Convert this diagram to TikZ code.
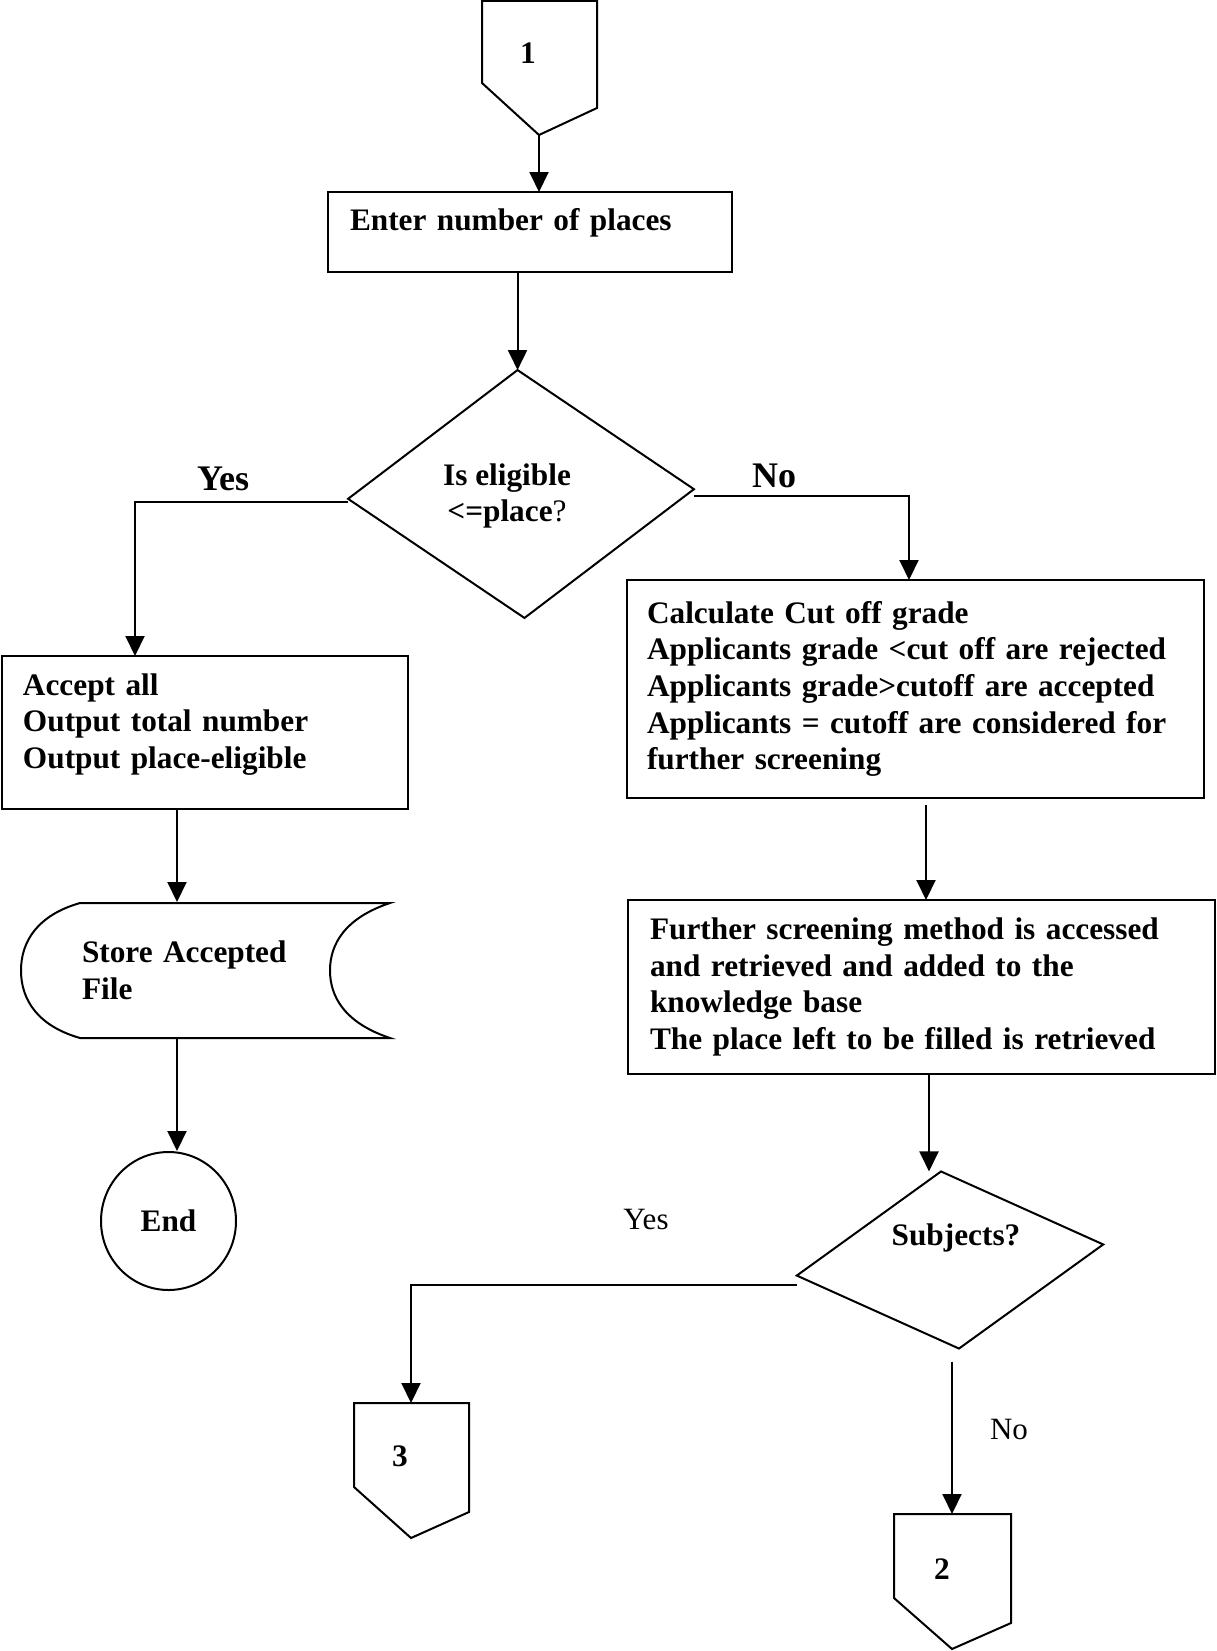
\documentclass[tikz,border=0pt]{standalone}
\usepackage{fontspec}
\setmainfont{Liberation Serif}
\usetikzlibrary{arrows.meta,shapes.geometric,calc}
\begin{document}
\begin{tikzpicture}[x=1pt,y=-1pt,
  line width=2pt,
  arr/.style={-{Triangle[length=20pt,width=19pt]}},
  proc/.style={draw, rectangle, inner ysep=0pt, outer sep=0pt, align=left,
    font=\bfseries\fontsize{31.3}{36.6}\selectfont},
  decision/.style={draw, diamond, inner sep=0pt, outer sep=0pt},
  bodytext/.style={font=\bfseries\fontsize{31.3}{36.6}\selectfont, inner sep=0pt},
  bigyn/.style={font=\bfseries\fontsize{36}{40}\selectfont, inner sep=0pt},
  plainyn/.style={font=\fontsize{31}{36}\selectfont, inner sep=0pt},
  offpage/.style={draw, line join=miter},
]
\useasboundingbox (0,0) rectangle (1217,1651);
\fill[white] (0,0) rectangle (1217,1651);

% off-page connector 1
\draw[offpage] (482,1) -- (597,1) -- (597,108) -- (539,135) -- (482,83) -- cycle;
\node[bodytext] (c1) at (528,53) {1};
\coordinate (c1tip) at (539,135);

% process boxes
\node[proc, minimum width=404pt, minimum height=80pt, text width=360pt,
      inner xsep=22pt, text height=38pt, text depth=42pt] (enter) at (530,232)
      {Enter number of places};

\node[proc, minimum width=406pt, minimum height=153pt, text width=364pt,
      inner xsep=21pt] (acc) at (205,732.5)
      {Accept all\\Output total number\\Output place-eligible\rule[-23pt]{0pt}{0pt}};

\node[proc, minimum width=577pt, minimum height=218pt, text width=537pt,
      inner xsep=20pt] (cutoff) at (915.5,689)
      {Calculate Cut off grade\\
       Applicants grade <cut off are rejected\\
       Applicants grade>cutoff are accepted\\
       Applicants = cutoff are considered for\\
       further screening};

\node[proc, minimum width=587pt, minimum height=174pt, text width=543pt,
      inner xsep=22pt] (screen) at (921.5,987)
      {Further screening method is accessed\\
       and retrieved and added to the\\
       knowledge base\\
       The place left to be filled is retrieved};

% first decision
\node[decision, minimum width=346pt, minimum height=248pt, rotate=1.6] (d1) at (521,494) {};
\node[bodytext, align=center] (q1) at (507,496) {Is eligible\\<=place{\mdseries ?}};
\node[bigyn] (yes1) at (223,479) {Yes};
\node[bigyn] (no1) at (774,476) {No};

% stored data symbol
\draw (80,903) -- (390,903)
  .. controls (345,918) and (330,944) .. (330,970.5)
  .. controls (330,997) and (345,1023) .. (390,1038)
  -- (80,1038)
  .. controls (38,1026) and (21,1000) .. (21,970.5)
  .. controls (21,941) and (38,915) .. (80,903) -- cycle;
\node[bodytext, minimum width=369pt, minimum height=135pt, text width=247pt,
      inner xsep=61pt, align=left] (store) at (205.5,970.5) {Store Accepted\\File};

% terminator
\node[draw, ellipse, minimum width=135pt, minimum height=138pt, inner sep=0pt,
      font=\bfseries\fontsize{31.3}{36.6}\selectfont] (endn) at (168.5,1221) {End};

% second decision
\node[decision, minimum width=308pt, minimum height=178pt, rotate=5.8] (d2) at (950,1260) {};
\node[bodytext] (q2) at (956,1238) {Subjects?};
\node[plainyn] (yes2) at (646,1219) {Yes};
\node[plainyn] (no2) at (1009,1429) {No};

% off-page connectors 3 and 2
\draw[offpage] (354,1403) -- (469,1403) -- (469,1512) -- (411,1538) -- (354,1487) -- cycle;
\node[bodytext] (c3) at (400,1456) {3};
\coordinate (c3top) at (411,1403);

\draw[offpage] (894,1514) -- (1011,1514) -- (1011,1623) -- (952,1649) -- (894,1598) -- cycle;
\node[bodytext] (c2) at (942,1569) {2};
\coordinate (c2top) at (952,1514);

% flow lines
\coordinate (lx) at (177,0);
\coordinate (rx) at (926,0);
\coordinate (fx) at (929,0);
\draw[arr] (c1tip) -- (c1tip |- enter.north);
\draw[arr] (enter.south -| d1.north) -- (d1.north);
\draw[arr] ([yshift=-3pt]d1.west) -| ([xshift=133pt]acc.north west);
\draw[arr] ([yshift=-7pt]d1.east) -| ([xshift=282pt]cutoff.north west);
\draw[arr] (acc.south -| lx) -- (store.north -| lx);
\draw[arr] (store.south -| lx) -- (endn.north -| lx);
\draw[arr, shorten <=7pt] (cutoff.south -| rx) -- (screen.north -| rx);
\draw[arr] (screen.south -| fx) -- (d2.north -| fx);
\draw[arr] ([yshift=-9pt]d2.west) -| (c3top);
\draw[arr, shorten <=13pt] (c2top |- d2.south) -- (c2top);
\end{tikzpicture}
\end{document}
